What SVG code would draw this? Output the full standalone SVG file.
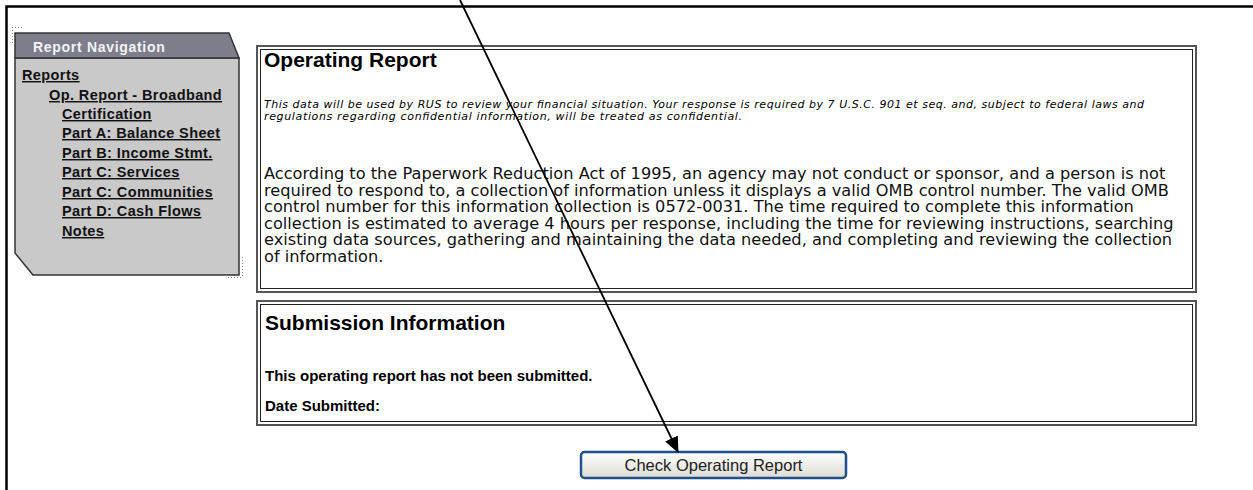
<svg xmlns="http://www.w3.org/2000/svg" width="1253" height="490" viewBox="0 0 1253 490">
<style>
.frame{stroke:#000;stroke-width:2.5;fill:none}
.dots{stroke:#888;stroke-width:1;stroke-dasharray:1 2;fill:none}
.link{font-family:"Liberation Sans",Arial,sans-serif;font-weight:bold;font-size:14.5px;letter-spacing:0.4px;fill:#111;text-decoration:underline}
.hdr{font-family:"Liberation Sans",Arial,sans-serif;font-weight:bold;font-size:14px;letter-spacing:0.7px;fill:#f4f4f4}
.box-o{fill:#fff;stroke:#555;stroke-width:2}
.box-i{fill:none;stroke:#222;stroke-width:1}
.title{font-family:"Liberation Sans",Arial,sans-serif;font-weight:bold;font-size:21px;fill:#000}
.ital{font-family:"DejaVu Sans",Verdana,sans-serif;font-style:italic;font-size:11px;fill:#000}
.body{font-family:"DejaVu Sans",Verdana,sans-serif;font-size:16.2px;fill:#111}
.bold{font-family:"Liberation Sans",Arial,sans-serif;font-weight:bold;font-size:15px;fill:#000}
.btn{font-family:"Liberation Sans",Arial,sans-serif;font-size:16.5px;fill:#222}
.conn{stroke:#000;stroke-width:1.8;fill:none}
</style>
<defs>
<linearGradient id="btnGrad" x1="0" y1="0" x2="0" y2="1">
<stop offset="0" stop-color="#ffffff"/>
<stop offset="1" stop-color="#dcdbd4"/>
</linearGradient>
<marker id="arrow" markerWidth="16" markerHeight="14" refX="15" refY="7" orient="auto" markerUnits="userSpaceOnUse">
<path d="M0,0 L16,7 L0,14 Z" fill="#000"/>
</marker>
</defs>
<rect width="1253" height="490" fill="#fff"/>
<g id="page-frame">
<path class="frame" d="M1253,6.5 H6.5 V490"/>
</g>
<g id="report-navigation">
<path class="dots" d="M12,27.5 H24 M12.5,27 V44"/>
<path class="dots" d="M242.5,257 V278 M228,277.5 H243"/>
<path d="M15,58 H239 V275 H33 L15,253 Z" fill="#c9c9c9" stroke="#333" stroke-width="1.5"/>
<path d="M15,33 H229 L239,58 H15 Z" fill="#7d7d8c" stroke="#333" stroke-width="1.5"/>
<text class="hdr" x="33" y="52">Report Navigation</text>
<text class="link" x="22" y="80">Reports</text>
<text class="link" x="49" y="100">Op. Report - Broadband</text>
<text class="link" x="62" y="119">Certification</text>
<text class="link" x="62" y="138">Part A: Balance Sheet</text>
<text class="link" x="62" y="158">Part B: Income Stmt.</text>
<text class="link" x="62" y="177">Part C: Services</text>
<text class="link" x="62" y="197">Part C: Communities</text>
<text class="link" x="62" y="216">Part D: Cash Flows</text>
<text class="link" x="62" y="236">Notes</text>
</g>
<g id="operating-report">
<rect class="box-o" x="257" y="46" width="939" height="246"/>
<rect class="box-i" x="260.5" y="49.5" width="932" height="239"/>
<text class="title" x="264" y="67">Operating Report</text>
<text class="ital" x="264" y="107.5" textLength="880" lengthAdjust="spacing">This data will be used by RUS to review your financial situation. Your response is required by 7 U.S.C. 901 et seq. and, subject to federal laws and</text>
<text class="ital" x="264" y="120" textLength="478" lengthAdjust="spacing">regulations regarding confidential information, will be treated as confidential.</text>
<text class="body" x="264" y="179">According to the Paperwork Reduction Act of 1995, an agency may not conduct or sponsor, and a person is not</text>
<text class="body" x="264" y="195.5">required to respond to, a collection of information unless it displays a valid OMB control number. The valid OMB</text>
<text class="body" x="264" y="212">control number for this information collection is 0572-0031. The time required to complete this information</text>
<text class="body" x="264" y="228.5">collection is estimated to average 4 hours per response, including the time for reviewing instructions, searching</text>
<text class="body" x="264" y="245">existing data sources, gathering and maintaining the data needed, and completing and reviewing the collection</text>
<text class="body" x="264" y="261.5">of information.</text>
</g>
<g id="submission-information">
<rect class="box-o" x="257" y="301" width="939" height="124"/>
<rect class="box-i" x="260.5" y="304.5" width="932" height="117"/>
<text class="title" x="265" y="330">Submission Information</text>
<text class="bold" x="265" y="381">This operating report has not been submitted.</text>
<text class="bold" x="265" y="411">Date Submitted:</text>
</g>
<g id="check-operating-report-button">
<rect x="581" y="452" width="265" height="26" rx="3.5" fill="url(#btnGrad)" stroke="#1f4f8c" stroke-width="2.5"/>
<text class="btn" x="713.5" y="471" text-anchor="middle">Check Operating Report</text>
</g>
<g id="connectors">
<line class="conn" x1="460" y1="0" x2="678" y2="452" marker-end="url(#arrow)"/>
</g>
</svg>
